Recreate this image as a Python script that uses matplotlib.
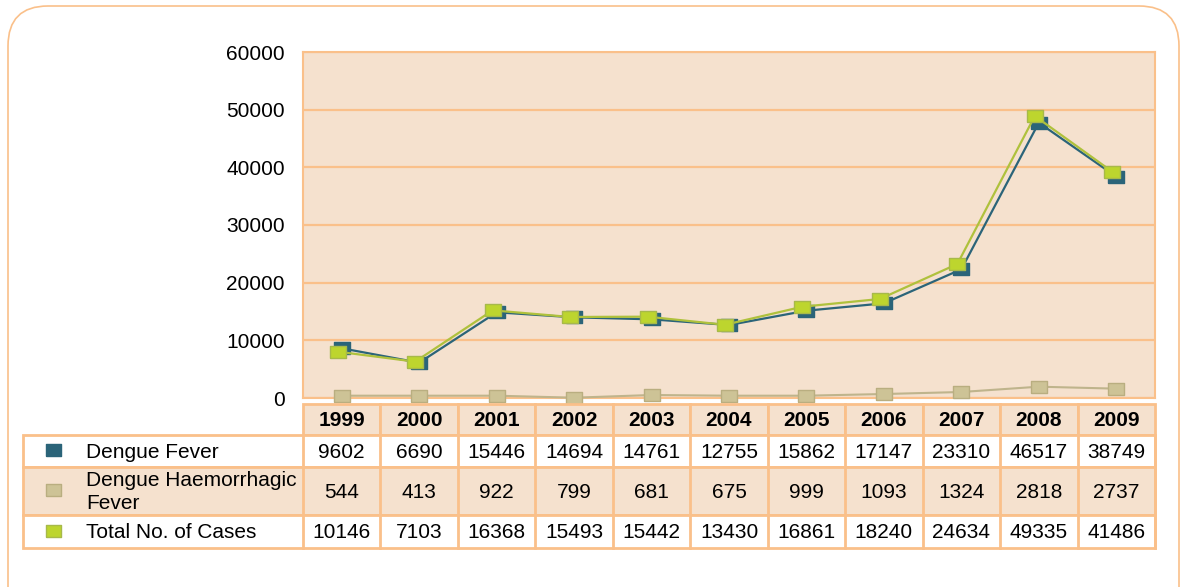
import matplotlib
matplotlib.use("Agg")
from matplotlib import pyplot as plt
from matplotlib.patches import Rectangle, FancyBboxPatch
from matplotlib.transforms import IdentityTransform, ScaledTranslation
import numpy as np

plt.rcParams['font.family'] = ['Liberation Sans', 'DejaVu Sans']

years = ['1999', '2000', '2001', '2002', '2003', '2004', '2005', '2006', '2007', '2008', '2009']
row_labels = ['Dengue Fever', 'Dengue Haemorrhagic\nFever', 'Total No. of Cases']

# values printed in the table
df_table = [9602, 6690, 15446, 14694, 14761, 12755, 15862, 17147, 23310, 46517, 38749]
dhf_table = [544, 413, 922, 799, 681, 675, 999, 1093, 1324, 2818, 2737]
total_table = [10146, 7103, 16368, 15493, 15442, 13430, 16861, 18240, 24634, 49335, 41486]

# values as drawn by the lines (they differ from the table)
df_plot = [8620, 6120, 14860, 13990, 13640, 12660, 15140, 16420, 22320, 47740, 38380]
dhf_plot = [400, 400, 400, 50, 520, 400, 400, 690, 1040, 1960, 1620]
total_plot = [8030, 6300, 15200, 14050, 14100, 12700, 15830, 17170, 23240, 48900, 39240]

y_ticks = [0, 10000, 20000, 30000, 40000, 50000, 60000]

TEAL = '#2B6479'
TAN = '#CDC396'
TAN_EDGE = '#B9AE80'
LIME = '#BDD52E'
LIME_EDGE = '#A7B94A'
ORANGE = '#FAC08A'
PEACH = '#F5E1CE'
FS = 15

W, H = 1180, 587
fig = plt.figure(figsize=(W / 100, H / 100), dpi=100)

# rounded frame around everything
frame = FancyBboxPatch((8, -40), 1171, 581 + 40, boxstyle='round,pad=0,rounding_size=40',
                       transform=IdentityTransform(), facecolor='none',
                       edgecolor=ORANGE, linewidth=1.2, zorder=-1)
fig.patches.append(frame)

# main plot area (pixels: x 303..1155, y 52..398)
px_l, px_r, px_t, px_b = 303, 1155, 52, 398
ax = fig.add_axes([px_l / W, (H - px_b) / H, (px_r - px_l) / W, (px_b - px_t) / H])
ax.set_facecolor(PEACH)
x = np.arange(len(years))
ax.set_xlim(-0.5, len(years) - 0.5)
ax.set_ylim(0, 60000)
ax.set_yticks(y_ticks)
ax.set_yticklabels([str(v) for v in y_ticks], fontsize=FS)
ax.set_xticks([])
ax.tick_params(axis='y', length=0, pad=13)
ax.grid(axis='y', color=ORANGE, linewidth=1.6)
ax.set_axisbelow(True)
for s in ax.spines.values():
    s.set_color(ORANGE)
    s.set_linewidth(1.5)

rect = [(-1, -0.73), (1, -0.73), (1, 0.73), (-1, 0.73), (-1, -0.73)]
shift_left = ax.transData + ScaledTranslation(-4 / 100, 0, fig.dpi_scale_trans)

ax.plot(x, dhf_plot, color='#BFB48C', lw=1.5, marker=rect, ms=11,
        mfc=TAN, mec=TAN_EDGE, mew=1, zorder=3, clip_on=False)
ax.plot(x, df_plot, color=TEAL, lw=1.6, marker=rect, ms=11,
        mfc=TEAL, mec=TEAL, mew=1, zorder=4, clip_on=False)
ax.plot(x, total_plot, color='#AFC13C', lw=1.6, marker=rect, ms=11,
        mfc=LIME, mec=LIME_EDGE, mew=1, zorder=5, clip_on=False, transform=shift_left)

# data table below the chart
t_l, t_t, t_b = 23, 404, 548
col_w = (px_r - px_l) / len(years)
x0 = -0.5 - (px_l - t_l) / col_w
tax = fig.add_axes([t_l / W, (H - t_b) / H, (px_r - t_l) / W, (t_b - t_t) / H])
tax.set_xlim(x0, len(years) - 0.5)
tax.set_ylim(t_b, t_t)
tax.axis('off')

head_top, head_h = 404, 31
for i, yr in enumerate(years):
    tax.add_patch(Rectangle((i - 0.5, head_top), 1, head_h, facecolor=PEACH,
                            edgecolor=ORANGE, lw=2, clip_on=False))
    tax.text(i, head_top + head_h / 2 + 1, yr, ha='center', va='center',
             fontsize=FS, fontweight='bold')

row_tops = [435, 467, 515]
row_hs = [32, 48, 33]
row_fill = ['white', PEACH, 'white']
row_vals = [df_table, dhf_table, total_table]
row_mfc = [TEAL, TAN, LIME]
row_mec = [TEAL, TAN_EDGE, LIME_EDGE]
leg_rect = [(-1, -0.8), (1, -0.8), (1, 0.8), (-1, 0.8), (-1, -0.8)]

for r in range(3):
    top, h = row_tops[r], row_hs[r]
    tax.add_patch(Rectangle((x0, top), len(years) - 0.5 - x0, h, facecolor=row_fill[r],
                            edgecolor=ORANGE, lw=2, clip_on=False))
    for i in range(len(years) + 1):
        tax.plot([i - 0.5, i - 0.5], [top, top + h], color=ORANGE, lw=2, clip_on=False)
    cy = top + h / 2
    tax.plot([x0 + (53 - t_l) / col_w], [cy - 1], marker=leg_rect, ms=10.8, mfc=row_mfc[r],
             mec=row_mec[r], mew=1, ls='none', clip_on=False)
    tax.text(x0 + (86 - t_l) / col_w, cy + 1, row_labels[r], ha='left', va='center',
             fontsize=FS, linespacing=1.22)
    for i, v in enumerate(row_vals[r]):
        tax.text(i, cy + 1, str(v), ha='center', va='center', fontsize=FS)

fig.savefig('out.png', dpi=100)
